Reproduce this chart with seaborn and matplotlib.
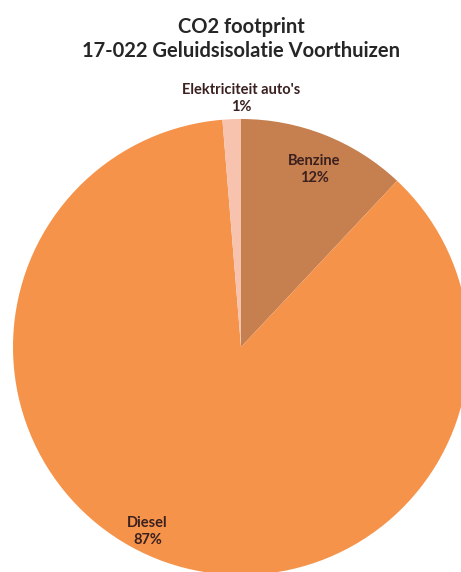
import matplotlib
matplotlib.use("Agg")
import matplotlib.pyplot as plt
import seaborn as sns
import numpy as np

# Data (clockwise from 12 o'clock)
categories = ["Benzine", "Diesel", "Elektriciteit auto's"]
shares = [12.0, 86.7, 1.3]
colors = ["#C67F4E", "#F5934A", "#F7C3AE"]

# label positions in pie-radius units (layout only)
label_pos = [(0.32, 0.78), (-0.41, -0.81), (0.0, 1.09)]

sns.set_style("white")
plt.rcParams["font.family"] = ["Lato", "DejaVu Sans"]

W, H = 461, 572
fig = plt.figure(figsize=(W / 100, H / 100), dpi=100)
# pie centre at (241, 347) px from top, radius 228 px
cx, cy, r = 241, 347, 228
ax = fig.add_axes([(cx - r) / W, (H - cy - r) / H, 2 * r / W, 2 * r / H])

ax.pie(shares, colors=colors, startangle=90, counterclock=False,
       radius=1.0, wedgeprops=dict(linewidth=0))
ax.set_xlim(-1, 1)
ax.set_ylim(-1, 1)
ax.set_aspect("equal")
ax.axis("off")

total = sum(shares)
for name, val, (lx, ly) in zip(categories, shares, label_pos):
    ax.text(lx, ly, f"{name}\n{val / total * 100:.0f}%", ha="center", va="center",
            fontsize=10.5, fontweight="bold", color="#3B2020", linespacing=1.3,
            clip_on=False)

fig.text(cx / W, 1 - 39 / H, "CO2 footprint\n17-022 Geluidsisolatie Voorthuizen",
         ha="center", va="center", fontsize=14.5, fontweight="bold",
         color="#262626", linespacing=1.25)

fig.savefig("out.png", dpi=100)
plt.close(fig)
